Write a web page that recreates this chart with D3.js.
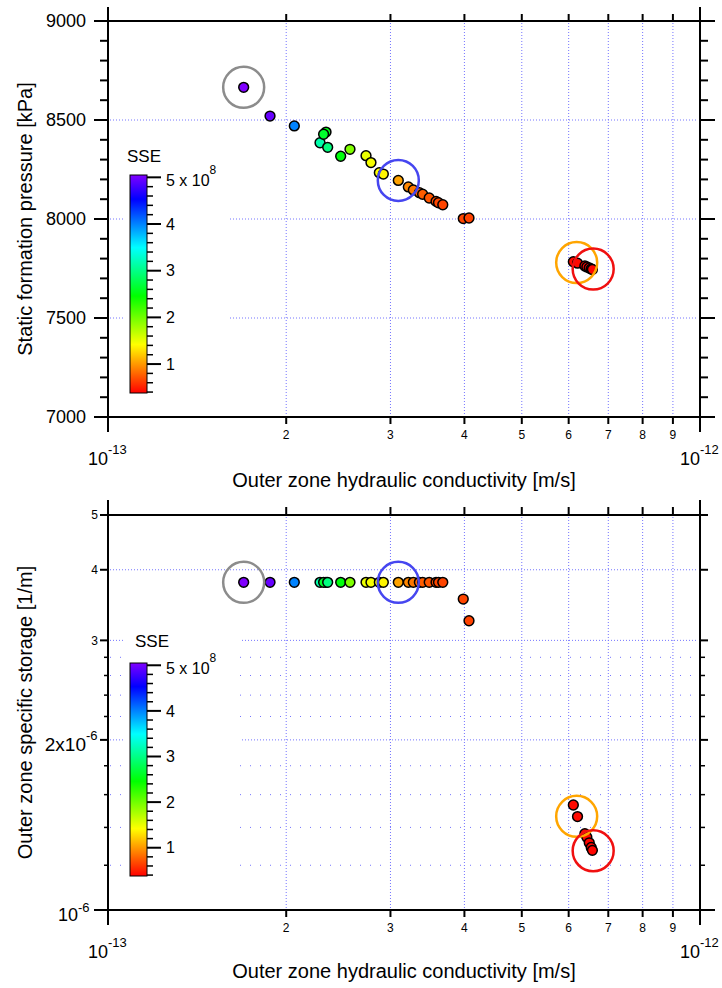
<!DOCTYPE html>
<html><head><meta charset="utf-8">
<script src="https://cdn.jsdelivr.net/npm/d3@7"></script>
<style>
body{margin:0;background:#fff}
svg{display:block}
text{font-family:"Liberation Sans",Arial,sans-serif;fill:#000}
</style>
</head><body>
<svg id="c" width="722" height="988"></svg>
<script>
// ---------------- data ----------------
const conductivity = [1.695e-13,1.878e-13,2.064e-13,2.281e-13,2.335e-13,2.313e-13,2.350e-13,2.472e-13,2.563e-13,
  2.728e-13,2.781e-13,2.873e-13,2.918e-13,3.093e-13,3.216e-13,3.279e-13,3.357e-13,3.400e-13,3.488e-13,3.582e-13,
  3.616e-13,3.677e-13,3.982e-13,4.072e-13,6.11e-13,6.21e-13,6.39e-13,6.44e-13,6.50e-13,6.55e-13,6.58e-13];
const pressure = [8665,8520,8470,8385,8439,8428,8362,8317,8352,
  8320,8285,8234,8227,8195,8162,8147,8133,8125,8106,8089,
  8082,8072,8002,8005,7784,7777,7763,7758,7753,7748,7745];
const storage = [3.80e-6,3.80e-6,3.80e-6,3.80e-6,3.80e-6,3.80e-6,3.80e-6,3.80e-6,3.80e-6,
  3.80e-6,3.80e-6,3.80e-6,3.80e-6,3.80e-6,3.80e-6,3.80e-6,3.80e-6,3.80e-6,3.80e-6,3.80e-6,
  3.80e-6,3.80e-6,3.55e-6,3.25e-6,1.534e-6,1.463e-6,1.365e-6,1.345e-6,1.315e-6,1.29e-6,1.275e-6];
const sse = [5.05e8,4.95e8,4.0e8,3.15e8,2.54e8,2.63e8,2.97e8,2.5e8,1.94e8,
  1.5e8,1.45e8,1.42e8,1.38e8,1.04e8,0.93e8,0.86e8,0.80e8,0.76e8,0.73e8,0.69e8,
  0.67e8,0.66e8,0.66e8,0.65e8,0.42e8,0.42e8,0.41e8,0.41e8,0.40e8,0.40e8,0.40e8];

const highlightK = [1.695e-13, 3.093e-13, 6.19e-13, 6.60e-13];
const highlightP = [8665, 8195, 7780, 7747];
const highlightS = [3.80e-6, 3.80e-6, 1.465e-6, 1.273e-6];
const highlightColor = ["#8c8c8c", "#4646f0", "#ffa500", "#f01010"];

const xMinorTicks = [2,3,4,5,6,7,8,9];          // x 1e-13
const pressureTicks = [7000,7500,8000,8500,9000];
const pressureGrid = [7500,8000,8500];
const storageMajor = [2,3,4,5];                   // x 1e-6
const storageMinor = [1.2,1.4,1.6,1.8,2.2,2.4,2.6,2.8];
const sseMajor = [1,2,3,4,5];                     // x 1e8
const sseRange = [0.38e8, 5.05e8];

// ---------------- setup ----------------
const svg = d3.select("#c");
const x = d3.scaleLog().domain([1e-13,1e-12]).range([108,700]);
const yP = d3.scaleLinear().domain([7000,9000]).range([417,21]);
const yS = d3.scaleLog().domain([1e-6,5e-6]).range([910,515]);
const hue = d3.scaleLinear().domain(sseRange).range([0,270]);
const col = v => d3.hsl(hue(v),1,0.5).formatHex();
const gridColor = "#7474ff";

const defs = svg.append("defs");
const grad = defs.append("linearGradient").attr("id","rb")
  .attr("x1",0).attr("y1",1).attr("x2",0).attr("y2",0);
d3.range(0,28).forEach(i=>{
  grad.append("stop").attr("offset",(i/27)).attr("stop-color",d3.hsl(i*10,1,0.5).formatHex());
});

function ln(g,x1,y1,x2,y2,w,c,dash){
  const l = g.append("line").attr("x1",x1).attr("y1",y1).attr("x2",x2).attr("y2",y2)
    .attr("stroke",c||"#000").attr("stroke-width",w||2);
  if(dash) l.attr("stroke-dasharray",dash);
  return l;
}
function txt(g,xx,yy,s,size,anchor){
  return g.append("text").attr("x",xx).attr("y",yy).attr("font-size",size)
    .attr("text-anchor",anchor||"start").text(s);
}

function colorbar(g, y0, y1, sseX, sseY){
  const cb = d3.scaleLinear().domain(sseRange).range([y0,y1]);
  txt(g, sseX, sseY, "SSE", 17);
  g.append("rect").attr("x",130).attr("y",y1).attr("width",17).attr("height",y0-y1)
    .attr("fill","url(#rb)").attr("stroke","#000").attr("stroke-width",1);
  d3.range(4,51,2).forEach(t=>{
    const v = t*1e7;
    if(t%10===0) return;
    ln(g,147,cb(v),153,cb(v),1.5);
  });
  sseMajor.forEach(m=>{
    const v = m*1e8;
    ln(g,147,cb(v),161,cb(v),2);
    if(m<5){
      txt(g,166,cb(v)+5.7,String(m),16);
    } else {
      const t = txt(g,166,cb(v)+9,"5 x 10",16);
      t.append("tspan").attr("dy",-12).attr("font-size",12).text("8");
    }
  });
}

function xAxisLabels(g, base){
  xMinorTicks.forEach(m=>{
    txt(g, x(m*1e-13), base+22, String(m), 12, "middle");
  });
  [[1e-13,"-13"],[1e-12,"-12"]].forEach(([v,e])=>{
    txt(g, x(v), base+48, "10", 18, "end");
    txt(g, x(v), base+37, e, 13, "start");
  });
}

// ================= TOP PLOT =================
const gTop = svg.append("g");
xMinorTicks.forEach(m=>ln(gTop,x(m*1e-13),23,x(m*1e-13),415,1,gridColor,"1,2"));
pressureGrid.forEach(v=>ln(gTop,110,yP(v),698,yP(v),1,gridColor,"1,2"));
gTop.append("rect").attr("x",124).attr("y",138).attr("width",105).attr("height",264).attr("fill","#fff");
colorbar(gTop, 393, 175, 127, 161.7);
ln(gTop,108,7,108,432,2);
ln(gTop,700,7,700,432,2);
ln(gTop,108,yP(9000),700,yP(9000),2);
ln(gTop,108,yP(7000),700,yP(7000),2);
d3.range(7000,9001,100).forEach(v=>{
  const major = v%500===0;
  ln(gTop, major?94:100, yP(v), 108, yP(v), 2);
  ln(gTop, 700, yP(v), major?715:708, yP(v), 2);
});
xMinorTicks.forEach(m=>{
  ln(gTop,x(m*1e-13),21,x(m*1e-13),14,2);
  ln(gTop,x(m*1e-13),417,x(m*1e-13),424,2);
});
pressureTicks.forEach(v=>txt(gTop,86,yP(v)+6.3,String(v),18,"end"));
xAxisLabels(gTop, 417);
txt(gTop,404,486.5,"Outer zone hydraulic conductivity [m/s]",20,"middle");
gTop.append("text").attr("transform","translate(32,219) rotate(-90)").attr("text-anchor","middle")
  .attr("font-size",20).text("Static formation pressure [kPa]");
conductivity.forEach((k,i)=>{
  gTop.append("circle").attr("cx",x(k)).attr("cy",yP(pressure[i])).attr("r",4.9)
    .attr("fill",col(sse[i])).attr("stroke","#000").attr("stroke-width",1.5);
});
highlightK.forEach((k,i)=>{
  gTop.append("circle").attr("cx",x(k)).attr("cy",yP(highlightP[i])).attr("r",20.5)
    .attr("fill","none").attr("stroke",highlightColor[i]).attr("stroke-width",2.5);
});

// ================= BOTTOM PLOT =================
const gBot = svg.append("g");
xMinorTicks.forEach(m=>ln(gBot,x(m*1e-13),517,x(m*1e-13),908,1,gridColor,"1,2"));
[2,3,4].forEach(v=>ln(gBot,110,yS(v*1e-6),698,yS(v*1e-6),1,gridColor,"1,2"));
storageMinor.forEach(v=>ln(gBot,110,yS(v*1e-6),698,yS(v*1e-6),1,gridColor,"1,9"));
gBot.append("rect").attr("x",123).attr("y",625).attr("width",117).attr("height",270).attr("fill","#fff");
colorbar(gBot, 876, 663, 135, 647.3);
ln(gBot,108,500,108,925,2);
ln(gBot,700,500,700,925,2);
ln(gBot,108,yS(5e-6),700,yS(5e-6),2);
ln(gBot,108,yS(1e-6),700,yS(1e-6),2);
ln(gBot,94,yS(1e-6),108,yS(1e-6),2);
ln(gBot,700,yS(1e-6),715,yS(1e-6),2);
storageMajor.forEach(v=>{
  ln(gBot,100,yS(v*1e-6),108,yS(v*1e-6),2);
  ln(gBot,700,yS(v*1e-6),708,yS(v*1e-6),2);
});
storageMinor.forEach(v=>{
  ln(gBot,104,yS(v*1e-6),108,yS(v*1e-6),1.5);
  ln(gBot,700,yS(v*1e-6),705,yS(v*1e-6),1.5);
});
xMinorTicks.forEach(m=>{
  ln(gBot,x(m*1e-13),515,x(m*1e-13),507,2);
  ln(gBot,x(m*1e-13),910,x(m*1e-13),917,2);
});
[3,4,5].forEach(v=>txt(gBot,98,yS(v*1e-6)+4.3,String(v),12,"end"));
txt(gBot,86,yS(2e-6)+10.7,"2x10",19,"end");
txt(gBot,86,yS(2e-6),"-6",13,"start");
txt(gBot,78,yS(1e-6)+10.7,"10",18,"end");
txt(gBot,78,yS(1e-6)+2,"-6",13,"start");
xAxisLabels(gBot, 910);
txt(gBot,404,978,"Outer zone hydraulic conductivity [m/s]",20,"middle");
gBot.append("text").attr("transform","translate(32,712.5) rotate(-90)").attr("text-anchor","middle")
  .attr("font-size",20).text("Outer zone specific storage [1/m]");
conductivity.forEach((k,i)=>{
  gBot.append("circle").attr("cx",x(k)).attr("cy",yS(storage[i])).attr("r",4.9)
    .attr("fill",col(sse[i])).attr("stroke","#000").attr("stroke-width",1.5);
});
highlightK.forEach((k,i)=>{
  gBot.append("circle").attr("cx",x(k)).attr("cy",yS(highlightS[i])).attr("r",20.5)
    .attr("fill","none").attr("stroke",highlightColor[i]).attr("stroke-width",2.5);
});
</script>
</body></html>
